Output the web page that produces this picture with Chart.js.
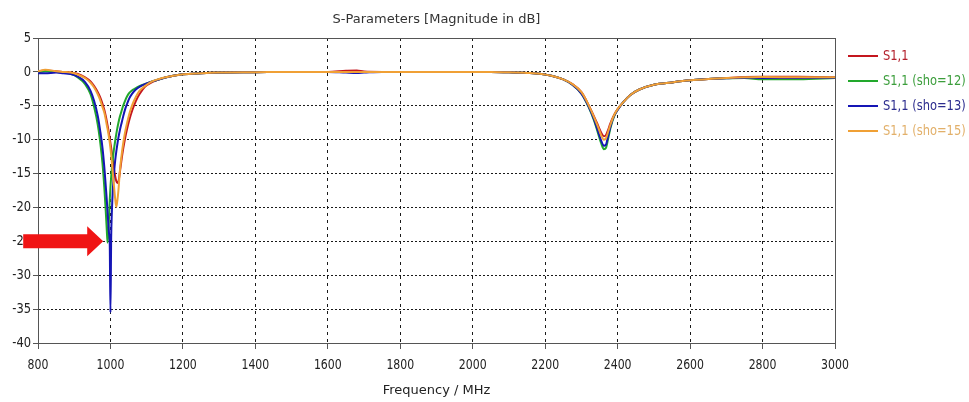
<!DOCTYPE html>
<html>
<head>
<meta charset="utf-8">
<title>S-Parameters</title>
<script src="https://cdn.jsdelivr.net/npm/chart.js@4/dist/chart.umd.min.js"></script>
<style>
  html, body { margin: 0; padding: 0; background: #ffffff; }
  #wrap { width: 969px; height: 402px; position: relative; }
</style>
</head>
<body>
<div id="wrap"><canvas id="chart"></canvas></div>
<script>
// Frequency sweep (MHz): dense around the two resonances
const freqMHz = [
  800, 820, 850, 870, 890, 910, 930, 945, 955, 965, 972, 978, 983, 987, 990, 992, 994, 996, 998, 1000,
  1002, 1004, 1007, 1010, 1013, 1016, 1019, 1022, 1026, 1030, 1035, 1040, 1046, 1052, 1060, 1070, 1080, 1095, 1115, 1140, 1170, 1200,
  1250, 1300, 1400, 1500, 1600, 1650, 1680, 1700, 1750, 1800, 1900, 2000, 2050, 2100, 2150, 2190,
  2220, 2250, 2275, 2300, 2320, 2335, 2345, 2355, 2362, 2368, 2374, 2380, 2390, 2400, 2415, 2435, 2460, 2500, 2550, 2600, 2650, 2700, 2750, 2800, 2900, 3000
];

// |S11| in dB for each variant
const s11 = [
  0.1, 0.2, 0.1, 0.0, -0.1, -0.3, -0.8, -1.4, -2.1, -3.0, -3.8, -4.7, -5.6, -6.5, -7.3, -7.9, -8.5, -9.1, -9.8, -10.5,
  -11.2, -12.0, -13.2, -14.4, -15.4, -16.1, -16.4, -16.2, -14.8, -13.2, -11.4, -9.9, -8.4, -7.1, -5.7, -4.3, -3.3, -2.2, -1.5, -1.0, -0.6, -0.35,
  -0.2, -0.1, -0.05, 0.0, 0.0, 0.15, 0.2, 0.05, 0.0, 0.0, 0.0, 0.0, 0.0, -0.05, -0.15, -0.3,
  -0.6, -1.1, -1.8, -3.0, -4.9, -6.6, -7.8, -9.0, -9.5, -9.3, -8.5, -7.6, -6.4, -5.5, -4.5, -3.4, -2.6, -1.9, -1.55, -1.25, -1.05, -0.9, -0.75, -0.7, -0.7, -0.8
];
const s11Sho12 = [
  -0.1, 0.1, 0.0, -0.1, -0.3, -0.8, -1.8, -3.3, -5.2, -7.8, -10.5, -13.5, -17.0, -20.5, -23.5, -25.2, -24.0, -21.5, -19.0, -17.0,
  -15.5, -14.2, -12.6, -11.3, -10.2, -9.2, -8.3, -7.5, -6.6, -5.9, -5.0, -4.3, -3.6, -3.1, -2.7, -2.4, -2.1, -1.8, -1.4, -1.0, -0.6, -0.35,
  -0.2, -0.1, -0.05, 0.0, 0.0, 0.0, 0.0, 0.0, 0.0, 0.0, 0.0, 0.0, 0.0, -0.05, -0.15, -0.3,
  -0.6, -1.1, -1.9, -3.2, -5.2, -7.2, -8.9, -10.6, -11.4, -11.2, -9.8, -8.3, -6.6, -5.6, -4.5, -3.4, -2.6, -1.9, -1.55, -1.25, -1.05, -0.95, -0.9, -1.1, -1.1, -0.9
];
const s11Sho13 = [
  -0.2, -0.2, -0.1, -0.2, -0.3, -0.7, -1.5, -2.8, -4.3, -6.5, -8.8, -11.2, -14.0, -16.8, -19.0, -20.7, -22.3, -23.8, -25.2, -35.5,
  -24.5, -20.5, -17.0, -14.8, -13.1, -11.8, -10.7, -9.7, -8.6, -7.7, -6.6, -5.6, -4.7, -3.9, -3.2, -2.6, -2.2, -1.8, -1.4, -1.0, -0.6, -0.35,
  -0.2, -0.1, -0.05, 0.0, 0.0, -0.1, -0.15, -0.1, 0.0, 0.0, 0.0, 0.0, 0.0, -0.05, -0.15, -0.3,
  -0.6, -1.1, -1.9, -3.2, -5.1, -7.0, -8.6, -10.2, -10.9, -10.7, -9.4, -8.1, -6.5, -5.6, -4.5, -3.4, -2.6, -1.9, -1.55, -1.25, -1.05, -0.95, -0.85, -0.9, -0.9, -0.85
];
const s11Sho15 = [
  0.1, 0.3, 0.1, 0.0, -0.1, -0.4, -0.9, -1.6, -2.3, -3.3, -4.2, -5.2, -6.0, -7.0, -7.9, -8.4, -9.0, -9.7, -10.4, -11.3,
  -12.3, -13.4, -15.2, -17.0, -18.7, -19.9, -19.0, -17.5, -14.6, -12.6, -10.6, -9.0, -7.5, -6.2, -4.9, -3.7, -2.8, -2.1, -1.4, -0.95, -0.6, -0.35,
  -0.2, -0.1, -0.05, 0.0, 0.0, 0.0, 0.0, 0.0, 0.0, 0.0, 0.0, 0.0, 0.0, -0.05, -0.15, -0.3,
  -0.6, -1.1, -1.8, -3.0, -4.9, -6.7, -8.0, -9.4, -10.0, -9.8, -8.8, -7.8, -6.4, -5.5, -4.5, -3.4, -2.6, -1.9, -1.55, -1.25, -1.05, -0.9, -0.8, -0.75, -0.8, -0.8
];

const seriesLabels = ['S1,1', 'S1,1 (sho=12)', 'S1,1 (sho=13)', 'S1,1 (sho=15)'];
const seriesColors = ['#c4161e', '#22a82c', '#1515b5', '#f0a035'];
const legendTextColors = ['#b3202c', '#3c9e3c', '#2c2c8e', '#e2b06a'];

const xTickValues = [800, 1000, 1200, 1400, 1600, 1800, 2000, 2200, 2400, 2600, 2800, 3000];
const yTickValues = [5, 0, -5, -10, -15, -20, -25, -30, -35, -40];

// Marker arrow pointing at the -25 dB level
const arrowTip = { freq: 980, db: -25 };

const FONT = '"DejaVu Sans", sans-serif';

const toPoints = (vals) => freqMHz.map((f, i) => ({ x: f, y: vals[i] }));
const seriesValues = [s11, s11Sho12, s11Sho13, s11Sho15];
const drawOrder = [3, 2, 1, 0];

const datasets = seriesValues.map((vals, i) => ({
  label: seriesLabels[i],
  data: toPoints(vals),
  borderColor: seriesColors[i],
  backgroundColor: seriesColors[i],
  borderWidth: 2,
  pointRadius: 0,
  cubicInterpolationMode: 'monotone',
  fill: false,
  order: drawOrder[i]
}));

// Narrow text: draw with a horizontal squeeze
function narrowText(ctx, text, x, y, squeeze) {
  ctx.save();
  ctx.translate(x, y);
  ctx.scale(squeeze, 1);
  ctx.fillText(text, 0, 0);
  ctx.restore();
}

// Plot frame, tick labels, title, legend and marker arrow
const framePlugin = {
  id: 'frame',
  beforeDatasetsDraw(chart) {
    const { ctx, chartArea: a } = chart;
    ctx.save();
    ctx.strokeStyle = '#555555';
    ctx.lineWidth = 1;
    ctx.strokeRect(Math.round(a.left) + 0.5, Math.round(a.top) + 0.5,
                   Math.round(a.right - a.left), Math.round(a.bottom - a.top));
    ctx.restore();
  },
  afterDraw(chart) {
    const { ctx, chartArea: a, scales } = chart;
    ctx.save();

    // tick labels
    ctx.fillStyle = '#222222';
    ctx.font = '14px ' + FONT;
    ctx.textBaseline = 'middle';
    ctx.textAlign = 'center';
    scales.x.ticks.forEach(t => {
      narrowText(ctx, String(t.value), scales.x.getPixelForValue(t.value), a.bottom + 22, 0.78);
    });
    ctx.textAlign = 'right';
    scales.y.ticks.forEach(t => {
      narrowText(ctx, String(t.value), a.left - 7, scales.y.getPixelForValue(t.value), 0.82);
    });

    // title
    ctx.fillStyle = '#333333';
    ctx.font = '13px ' + FONT;
    ctx.textAlign = 'center';
    narrowText(ctx, 'S-Parameters [Magnitude in dB]', (a.left + a.right) / 2, 20, 1);

    // legend
    ctx.textAlign = 'left';
    ctx.font = '14px ' + FONT;
    chart.data.datasets.forEach((ds, i) => {
      const y = 56 + i * 25;
      ctx.strokeStyle = ds.borderColor;
      ctx.lineWidth = 2;
      ctx.beginPath();
      ctx.moveTo(a.right + 13, y);
      ctx.lineTo(a.right + 43, y);
      ctx.stroke();
      ctx.fillStyle = legendTextColors[i];
      narrowText(ctx, ds.label, a.right + 48, y, 0.82);
    });

    // arrow
    const tx = scales.x.getPixelForValue(arrowTip.freq);
    const ty = scales.y.getPixelForValue(arrowTip.db);
    const headLen = 16, headHalf = 15, bodyHalf = 7, bodyLen = 64;
    ctx.fillStyle = '#f01414';
    ctx.beginPath();
    ctx.moveTo(tx, ty);
    ctx.lineTo(tx - headLen, ty - headHalf);
    ctx.lineTo(tx - headLen, ty - bodyHalf);
    ctx.lineTo(tx - headLen - bodyLen, ty - bodyHalf);
    ctx.lineTo(tx - headLen - bodyLen, ty + bodyHalf);
    ctx.lineTo(tx - headLen, ty + bodyHalf);
    ctx.lineTo(tx - headLen, ty + headHalf);
    ctx.closePath();
    ctx.fill();
    ctx.restore();
  }
};

new Chart(document.getElementById('chart'), {
  type: 'line',
  data: { datasets },
  plugins: [framePlugin],
  options: {
    responsive: true,
    maintainAspectRatio: false,
    animation: false,
    layout: { padding: { top: 38, right: 134, left: 0, bottom: 0 } },
    plugins: {
      legend: { display: false },
      title: { display: false },
      tooltip: { enabled: false }
    },
    scales: {
      x: {
        type: 'linear',
        min: 800,
        max: 3000,
        afterBuildTicks: (s) => { s.ticks = xTickValues.map(v => ({ value: v })); },
        afterFit: (s) => { s.height = 59; },
        ticks: { display: false, autoSkip: false, maxRotation: 0 },
        grid: {
          color: '#1a1a1a', lineWidth: 1, tickLength: 6,
          tickColor: '#555555', tickBorderDash: []
        },
        border: { display: true, color: '#555555', width: 1, dash: [3, 4] },
        title: {
          display: true, text: 'Frequency / MHz', color: '#222222',
          font: { family: FONT, size: 13 }, padding: { top: 2, bottom: 4 }
        }
      },
      y: {
        type: 'linear',
        min: -40,
        max: 5,
        afterBuildTicks: (s) => { s.ticks = yTickValues.map(v => ({ value: v })); },
        afterFit: (s) => { s.width = 38; },
        ticks: { display: false, autoSkip: false },
        grid: {
          color: '#1a1a1a', lineWidth: 1, tickLength: 5,
          tickColor: '#555555', tickBorderDash: []
        },
        border: { display: true, color: '#555555', width: 1, dash: [2, 2] }
      }
    }
  }
});
</script>
</body>
</html>
